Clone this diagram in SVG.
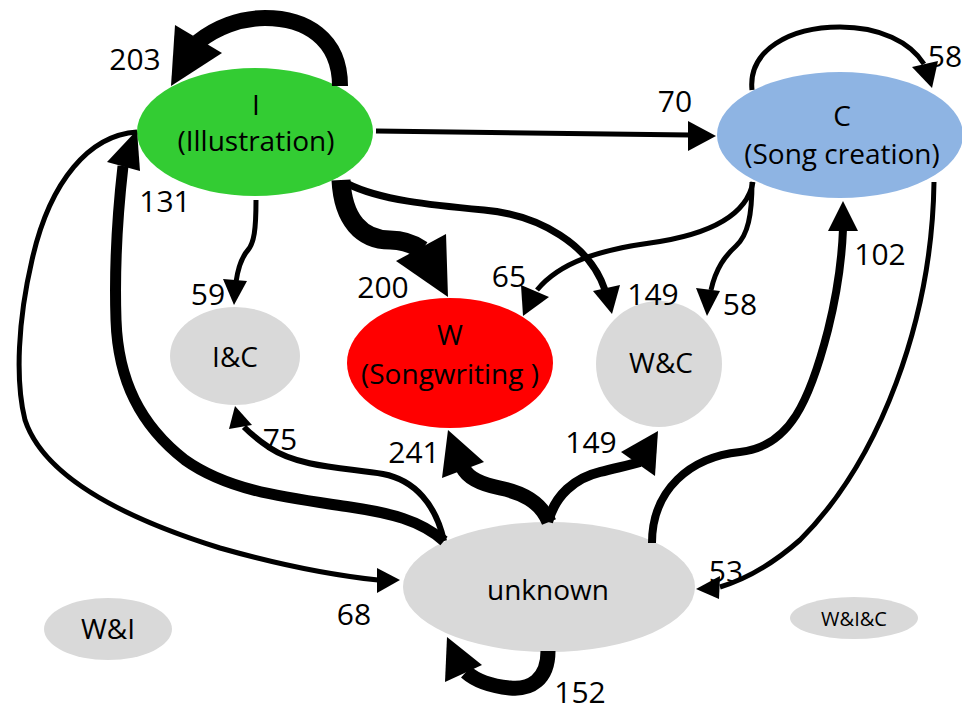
<svg xmlns="http://www.w3.org/2000/svg" width="962" height="713" viewBox="0 0 962 713">
<style>
  .t { font-family: "Open Sans", "Noto Sans", "Liberation Sans", sans-serif; font-size: 28px; fill: #000; text-anchor: middle; }
  .n { font-family: "Open Sans", "Noto Sans", "Liberation Sans", sans-serif; font-size: 30px; fill: #000; text-anchor: middle; }
  .e { fill: none; stroke: #000; stroke-linecap: butt; stroke-linejoin: round; }
  .h { fill: #000; stroke: none; }
  .grey { fill: #D9D9D9; }
</style>
<rect width="962" height="713" fill="#fff"/>

<g id="node-I">
  <ellipse cx="255" cy="132" rx="118" ry="64" fill="#33CC33"/>
  <text class="t" x="256" y="115">I</text>
  <text class="t" x="256" y="151">(Illustration)</text>
</g>
<g id="node-C">
  <ellipse cx="840" cy="135" rx="123" ry="63" fill="#8EB4E3"/>
  <text class="t" x="842" y="126">C</text>
  <text class="t" x="842" y="164">(Song creation)</text>
</g>
<g id="node-W">
  <ellipse cx="450" cy="363" rx="103" ry="65" fill="#FF0000"/>
  <text class="t" x="450" y="345">W</text>
  <text class="t" x="450" y="384">(Songwriting )</text>
</g>
<g id="node-IC">
  <ellipse class="grey" cx="235" cy="356" rx="65" ry="49"/>
  <text class="t" x="235" y="367">I&amp;C</text>
</g>
<g id="node-WC">
  <ellipse class="grey" cx="659" cy="364" rx="63" ry="63"/>
  <text class="t" x="661" y="373">W&amp;C</text>
</g>
<g id="node-unknown">
  <ellipse class="grey" cx="549" cy="587" rx="146" ry="65"/>
  <text class="t" x="548" y="600">unknown</text>
</g>
<g id="node-WI">
  <ellipse class="grey" cx="108" cy="629" rx="64" ry="31"/>
  <text class="t" x="108" y="639">W&amp;I</text>
</g>
<g id="node-WIC">
  <ellipse class="grey" cx="854" cy="618" rx="64" ry="21"/>
  <text class="t" x="854" y="626" style="font-size:20px">W&amp;I&amp;C</text>
</g>

<g id="connectors">
  <g id="e-I-I">
    <path class="e" stroke-width="16" d="M 340 86 C 340 38, 305 18, 265 18 C 240 18, 215 28, 198 42"/>
    <polygon class="h" points="171,86 175,25 222,53"/>
    <text class="n" x="135" y="70">203</text>
  </g>
  <g id="e-I-C">
    <path class="e" stroke-width="5" d="M 376 131 L 690 135"/>
    <polygon class="h" points="716,136 688,121 688,151"/>
    <text class="n" x="675" y="112">70</text>
  </g>
  <g id="e-C-C">
    <path class="e" stroke-width="5" d="M 752 90 C 748 50, 790 27, 840 27 C 880 27, 910 42, 924 64"/>
    <polygon class="h" points="932,88 912,67 938,61"/>
    <text class="n" x="945" y="67">58</text>
  </g>
  <g id="e-I-IC">
    <path class="e" stroke-width="5" d="M 256 200 C 256 230, 254 243, 248 250 C 241 258, 238 268, 236 282"/>
    <polygon class="h" points="234,305 223,279 247,281"/>
    <text class="n" x="208" y="305">59</text>
  </g>
  <g id="e-I-W">
    <path class="e" stroke-width="19" d="M 341 180 C 343 220, 362 240, 390 240 C 402 240, 412 243, 422 250"/>
    <polygon class="h" points="448,297 396,261 446,234"/>
    <text class="n" x="383" y="298">200</text>
  </g>
  <g id="e-I-WC">
    <path class="e" stroke-width="7" d="M 348 184 C 380 200, 430 205, 484 210 C 540 215, 590 245, 605 290"/>
    <polygon class="h" points="612,314 593,291 620,285"/>
    <text class="n" x="653" y="305">149</text>
  </g>
  <g id="e-C-W">
    <path class="e" stroke-width="5" d="M 753 182 C 746 220, 700 236, 650 243 C 600 250, 560 262, 537 290"/>
    <polygon class="h" points="523,316 521,285 549,297"/>
    <text class="n" x="509" y="287">65</text>
  </g>
  <g id="e-C-WC">
    <path class="e" stroke-width="5" d="M 752 182 C 752 215, 748 235, 736 246 C 725 256, 716 268, 711 290"/>
    <polygon class="h" points="707,316 696,288 720,291"/>
    <text class="n" x="740" y="315">58</text>
  </g>
  <g id="e-U-C">
    <path class="e" stroke-width="8" d="M 652 543 C 652 490, 690 457, 740 452 C 790 447, 810 400, 828 330 C 838 290, 842 255, 843 229"/>
    <polygon class="h" points="843,201 828,231 858,231"/>
    <text class="n" x="880" y="265">102</text>
  </g>
  <g id="e-C-U">
    <path class="e" stroke-width="5" d="M 934 182 C 932 320, 880 460, 800 540 C 775 562, 750 578, 720 587"/>
    <polygon class="h" points="696,589 720,576 719,599"/>
    <text class="n" x="726" y="582">53</text>
  </g>
  <g id="e-U-W">
    <path class="e" stroke-width="15" d="M 549 522 C 540 500, 520 492, 500 488 C 480 484, 468 478, 463 468"/>
    <polygon class="h" points="448,430 442,478 484,462"/>
    <text class="n" x="414" y="463">241</text>
  </g>
  <g id="e-U-WC">
    <path class="e" stroke-width="10" d="M 548 522 C 555 495, 575 478, 600 472 C 620 467, 630 465, 640 462"/>
    <polygon class="h" points="658,431 621,452 655,476"/>
    <text class="n" x="591" y="453">149</text>
  </g>
  <g id="e-U-IC">
    <path class="e" stroke-width="6" d="M 444 541 C 436 505, 415 480, 383 474 C 350 468, 300 468, 270 448 C 258 440, 250 433, 244 427"/>
    <polygon class="h" points="235,406 229,429 252,425"/>
    <text class="n" x="280" y="450">75</text>
  </g>
  <g id="e-U-I">
    <path class="e" stroke-width="11" d="M 444 541 C 420 520, 390 513, 350 507 C 290 498, 230 492, 185 460 C 140 425, 118 380, 116 320 C 114 260, 118 210, 123 166"/>
    <polygon class="h" points="137,130 107,162 140,171"/>
    <text class="n" x="165" y="212">131</text>
  </g>
  <g id="e-I-U">
    <path class="e" stroke-width="5" d="M 137 132 C 90 135, 50 180, 32 260 C 18 320, 15 380, 25 420 C 45 480, 130 520, 220 548 C 280 565, 330 575, 378 580"/>
    <polygon class="h" points="400,580 377,568 377,593"/>
    <text class="n" x="354" y="625">68</text>
  </g>
  <g id="e-U-U">
    <path class="e" stroke-width="15" d="M 548 651 C 548 680, 530 690, 510 688 C 490 686, 475 680, 466 672"/>
    <polygon class="h" points="447,637 445,682 482,665"/>
    <text class="n" x="580" y="703">152</text>
  </g>
</g>
</svg>
